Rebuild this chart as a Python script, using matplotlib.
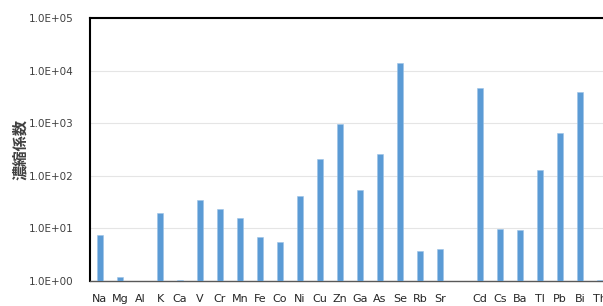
import numpy as np
import matplotlib
matplotlib.use("Agg")
from matplotlib import pyplot as plt
from matplotlib.ticker import FixedLocator

# element labels ("" = empty slot between Sr and Cd)
elements = ["Na", "Mg", "Al", "K", "Ca", "V", "Cr", "Mn", "Fe", "Co", "Ni", "Cu", "Zn",
            "Ga", "As", "Se", "Rb", "Sr", "", "Cd", "Cs", "Ba", "Tl", "Pb", "Bi", "Th"]
# concentration factors
factors = [7.4, 1.17, np.nan, 19.4, 1.03, 34.0, 23.0, 16.0, 6.8, 5.4, 42.0, 209.0, 950.0,
           53.0, 256.0, 13700.0, 3.8, 4.1, np.nan, 4600.0, 9.9, 9.5, 129.0, 650.0, 3900.0, 1.03]
ytick_vals = [1e0, 1e1, 1e2, 1e3, 1e4, 1e5]
ytick_labels = ["1.0E+00", "1.0E+01", "1.0E+02", "1.0E+03", "1.0E+04", "1.0E+05"]

fig = plt.figure(figsize=(6.03, 3.06), dpi=100)
# plot area runs past the right edge of the picture, as in the reference
ax = fig.add_axes([90 / 603, 1 - 281 / 306, 540 / 603, 263 / 306])

x = np.arange(len(elements))
ax.set_yscale("log")
ax.bar(x, factors, width=0.3, color="#5B9BD5", edgecolor="#9DC3E6", linewidth=0.4, zorder=3)

ax.set_ylim(1, 1e5)
ax.set_xlim(-0.5, len(elements) + 0.5)
ax.yaxis.set_major_locator(FixedLocator(ytick_vals))
ax.yaxis.set_minor_locator(FixedLocator([]))
ax.set_yticklabels(ytick_labels, fontsize=7.5, color="#404040", family="DejaVu Sans")
ax.set_xticks(x)
ax.set_xticklabels(elements, fontsize=8, color="#262626", family="DejaVu Sans")
ax.tick_params(axis="x", length=0, pad=9)
ax.tick_params(axis="y", length=0, pad=12)

ax.grid(axis="y", color="#E5E5E5", linewidth=0.8, zorder=0)

for side in ["left", "top"]:
    ax.spines[side].set_color("black")
    ax.spines[side].set_linewidth(1.5)
ax.spines["bottom"].set_color("#595959")
ax.spines["bottom"].set_linewidth(1.0)
ax.spines["right"].set_visible(False)

ax.set_ylabel("濃縮係数", fontsize=11, fontweight="bold", color="#404040",
              family=["Noto Sans CJK JP", "DejaVu Sans"])
ax.yaxis.set_label_coords(-0.114, 0.5)

fig.savefig("out.png", dpi=100)
